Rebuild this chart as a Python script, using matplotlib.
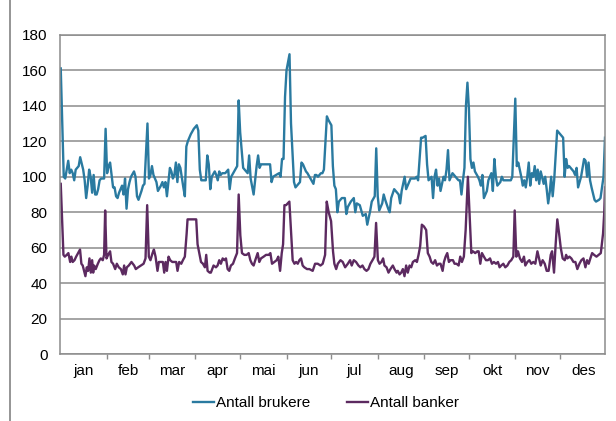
import numpy as np
import matplotlib.pyplot as plt
from matplotlib.lines import Line2D

# day of year (0 = 1 Jan) and daily counts
brukere_dag = [0, 2, 3, 4, 5, 6, 7, 8, 9, 10, 12, 13, 15, 16, 17, 18, 19, 20, 21, 22,
               23, 24, 25, 26, 27, 29, 30, 31, 32, 33, 35, 36, 37, 38, 39, 41, 42, 43, 44, 45,
               46, 47, 49, 50, 51, 52, 54, 55, 56, 58, 59, 60, 61, 62, 64, 65, 67, 68, 69, 70,
               71, 72, 73, 74, 75, 76, 77, 78, 79, 80, 82, 83, 84, 85, 87, 89, 91, 92, 93, 94,
               96, 97, 98, 99, 100, 101, 103, 104, 105, 106, 107, 108, 110, 112, 113, 114, 116, 118, 119, 120,
               122, 124, 125, 126, 127, 129, 131, 132, 133, 134, 136, 138, 140, 141, 142, 144, 146, 147, 148, 149,
               150, 151, 153, 154, 156, 157, 159, 160, 161, 162, 164, 165, 167, 169, 170, 171, 172, 174, 175, 176,
               178, 179, 181, 182, 183, 184, 185, 186, 188, 190, 191, 192, 194, 196, 197, 198, 200, 201, 202, 204,
               205, 206, 207, 208, 210, 211, 212, 213, 215, 216, 217, 219, 220, 221, 223, 224, 226, 227, 228, 229,
               230, 231, 233, 234, 235, 237, 238, 239, 241, 242, 244, 245, 246, 248, 249, 250, 251, 252, 253, 254,
               256, 257, 258, 259, 260, 261, 262, 264, 266, 267, 268, 269, 270, 271, 272, 273, 274, 275, 276, 277,
               279, 280, 281, 282, 283, 285, 286, 288, 289, 290, 291, 292, 294, 295, 296, 297, 299, 301, 302, 304,
               305, 306, 308, 309, 310, 311, 312, 313, 314, 315, 316, 317, 318, 319, 320, 321, 323, 324, 325, 326,
               327, 328, 329, 330, 332, 333, 334, 336, 337, 338, 339, 340, 341, 343, 344, 345, 346, 348, 350, 351,
               352, 353, 354, 355, 357, 358, 360, 361, 363, 364]
brukere = [161, 100, 99, 104, 109, 102, 104, 102, 98, 104, 106, 111, 104, 98, 88, 95, 104, 100, 91, 101,
           90, 90, 93, 98, 99, 99, 127, 102, 106, 108, 94, 94, 89, 88, 91, 95, 90, 99, 82, 93,
           97, 100, 103, 100, 89, 87, 92, 95, 96, 130, 99, 101, 106, 101, 97, 92, 95, 97, 94, 97,
           89, 97, 105, 103, 99, 101, 108, 97, 107, 105, 94, 89, 117, 120, 124, 127, 129, 126, 104, 98,
           98, 98, 112, 107, 93, 100, 103, 101, 98, 103, 101, 102, 102, 104, 93, 100, 103, 106, 143, 125,
           105, 103, 102, 112, 99, 90, 106, 112, 105, 107, 107, 107, 107, 97, 100, 101, 102, 100, 110, 110,
           145, 160, 169, 130, 97, 94, 96, 97, 108, 107, 103, 102, 99, 96, 101, 101, 100, 102, 102, 104,
           134, 132, 129, 106, 95, 93, 80, 86, 88, 88, 79, 83, 86, 88, 80, 85, 84, 81, 78, 79,
           73, 77, 81, 86, 89, 116, 89, 81, 85, 90, 87, 82, 80, 88, 93, 92, 90, 85, 92, 96,
           100, 93, 97, 99, 99, 99, 100, 98, 122, 122, 123, 107, 98, 100, 88, 100, 104, 95, 99, 92,
           100, 98, 104, 115, 98, 100, 102, 100, 98, 98, 90, 98, 105, 140, 153, 138, 110, 105, 108, 103,
           100, 98, 95, 101, 88, 92, 98, 102, 92, 110, 100, 95, 97, 100, 98, 98, 98, 98, 100, 144,
           106, 108, 100, 95, 98, 94, 100, 108, 95, 102, 100, 106, 98, 104, 96, 103, 96, 100, 93, 85,
           91, 100, 89, 98, 126, 125, 124, 122, 100, 110, 105, 106, 105, 103, 101, 105, 94, 100, 110, 109,
           100, 108, 98, 94, 87, 86, 87, 88, 100, 122]

banker_dag = [0, 1.8, 2.7, 4.0, 5.1, 6.3, 7.1, 8.0, 9.2, 10.3, 11.6, 12.9, 13.8, 14.7, 15.6, 16.5, 17.4, 18.3, 19.2, 20.1,
              21.0, 21.7, 22.3, 23.4, 24.8, 25.9, 26.8, 28.1, 29.0, 29.7, 30.6, 31.7, 33.0, 33.9, 35.0, 36.4, 37.5, 38.8, 40.2, 41.5,
              42.4, 43.3, 44.2, 45.5, 47.3, 49.1, 50.2, 51.8, 53.6, 55.4, 56.7, 57.8, 58.9, 60.0, 61.4, 62.3, 63.4, 64.7, 65.6, 67.0,
              68.3, 69.2, 70.1, 71.0, 72.1, 73.2, 74.6, 75.9, 77.2, 78.1, 79.2, 80.6, 81.7, 83.0, 84.2, 84.8, 87.1, 89.3, 90.6, 91.5,
              92.9, 93.8, 95.1, 96.4, 97.3, 98.2, 99.6, 100.4, 102.2, 103.8, 104.9, 106.0, 107.1, 108.3, 109.4, 110.5, 111.6, 112.7, 113.8, 115.2,
              116.5, 117.9, 119.0, 120.1, 121.2, 122.8, 124.3, 125.7, 126.8, 127.9, 129.0, 130.1, 131.7, 132.8, 133.9, 135.7, 137.3, 139.1, 140.2, 141.3,
              142.9, 144.4, 145.5, 146.7, 147.8, 148.7, 149.6, 150.7, 152.9, 154.0, 155.1, 156.3, 157.4, 158.5, 159.6, 160.7, 161.8, 162.9, 164.7, 166.3,
              168.5, 170.1, 171.9, 173.7, 175.2, 176.8, 177.9, 179.2, 180.8, 182.1, 183.0, 184.2, 185.3, 187.1, 188.6, 190.2, 192.0, 193.5, 194.6, 196.0,
              197.5, 199.1, 200.4, 201.8, 203.1, 204.5, 205.8, 207.1, 208.5, 209.8, 210.9, 212.1, 213.2, 214.5, 215.6, 216.5, 217.9, 219.2, 220.5, 222.1,
              223.2, 224.6, 225.4, 226.6, 227.7, 228.8, 229.9, 231.0, 232.1, 233.3, 234.4, 235.5, 237.1, 238.2, 239.3, 240.4, 241.5, 242.9, 244.4, 245.5,
              246.7, 247.8, 249.1, 250.4, 251.6, 252.9, 254.0, 255.4, 256.3, 257.4, 258.5, 259.6, 260.7, 262.3, 263.4, 264.7, 266.1, 267.2, 268.3, 269.6,
              270.8, 272.3, 273.4, 274.6, 275.7, 277.2, 278.6, 279.5, 280.6, 281.7, 283.0, 284.4, 285.7, 287.1, 288.4, 289.7, 291.1, 292.4, 293.5, 294.6,
              296.0, 297.3, 298.7, 300.0, 301.3, 302.7, 303.6, 304.7, 305.8, 307.1, 308.5, 309.8, 310.7, 312.1, 313.4, 314.7, 316.1, 317.4, 318.8, 319.6,
              321.0, 322.3, 323.7, 325.0, 326.3, 327.7, 328.6, 329.9, 331.0, 332.1, 333.3, 334.4, 335.7, 337.1, 338.0, 338.8, 340.2, 341.5, 342.9, 344.2,
              345.5, 346.9, 348.2, 349.6, 350.9, 352.0, 353.1, 354.2, 355.4, 356.7, 358.3, 359.8, 361.2, 362.7, 363.5, 364]
banker = [96, 56, 55, 56, 57, 52, 55, 52, 53, 55, 57, 59, 51, 50, 47, 44, 49, 47, 54, 46,
          53, 46, 50, 48, 51, 53, 54, 53, 56, 81, 54, 56, 58, 52, 51, 48, 51, 49, 48, 45,
          50, 45, 49, 50, 52, 50, 48, 49, 50, 51, 54, 84, 55, 53, 57, 59, 55, 47, 52, 52,
          52, 46, 52, 47, 55, 53, 52, 52, 52, 47, 52, 51, 53, 55, 68, 76, 76, 76, 76, 62,
          56, 52, 51, 49, 56, 47, 46, 46, 50, 49, 50, 53, 51, 54, 53, 54, 48, 47, 50, 51,
          54, 57, 90, 67, 57, 56, 56, 57, 53, 51, 50, 53, 57, 52, 54, 55, 56, 56, 57, 51,
          52, 53, 55, 47, 57, 62, 84, 84, 86, 70, 53, 51, 52, 51, 53, 54, 50, 49, 48, 48,
          47, 51, 51, 50, 51, 56, 86, 80, 75, 58, 51, 48, 51, 53, 52, 49, 51, 53, 50, 53,
          52, 50, 49, 50, 48, 47, 48, 51, 53, 55, 74, 53, 51, 52, 54, 50, 49, 46, 48, 50,
          48, 46, 47, 45, 46, 48, 44, 50, 46, 50, 49, 52, 53, 52, 56, 61, 73, 72, 70, 57,
          55, 52, 51, 53, 50, 51, 51, 47, 52, 55, 57, 52, 53, 53, 51, 51, 50, 55, 52, 55,
          70, 100, 80, 57, 58, 57, 58, 58, 51, 57, 55, 53, 53, 54, 51, 52, 51, 52, 49, 50,
          51, 49, 50, 52, 53, 55, 81, 55, 58, 54, 52, 55, 50, 52, 53, 51, 52, 51, 58, 55,
          50, 53, 51, 47, 47, 56, 58, 46, 62, 76, 68, 60, 54, 53, 56, 54, 55, 54, 52, 52,
          48, 51, 53, 54, 49, 53, 51, 54, 57, 56, 55, 56, 57, 68, 80, 94]

maaneder = ['jan', 'feb', 'mar', 'apr', 'mai', 'jun', 'jul', 'aug', 'sep', 'okt', 'nov', 'des']
maaned_start = [0, 31, 59, 90, 120, 151, 181, 212, 243, 273, 304, 334, 365]

plt.rcParams['font.family'] = ['Liberation Sans', 'DejaVu Sans']
plt.rcParams['font.size'] = 11

blaa = '#2a7aa0'
lilla = '#5c2a60'
graa = '#8c8c8c'

fig = plt.figure(figsize=(6.16, 4.21), dpi=100)
ax = fig.add_axes([60 / 616, 1 - 354.3 / 421, 545 / 616, 319.6 / 421])

ax.plot(brukere_dag, brukere, color=blaa, lw=1.7, label='Antall brukere', solid_joinstyle='round')
ax.plot(banker_dag, banker, color=lilla, lw=1.7, label='Antall banker', solid_joinstyle='round')

ax.set_ylim(0, 180)
ax.set_yticks(np.arange(0, 181, 20))
ax.set_xlim(-0.5, 364)
ax.grid(axis='y', color=graa, lw=1.1)
ax.set_axisbelow(True)

# month boundaries as tick marks, month names centred between them
ax.set_xticks(maaned_start[1:-1])
ax.set_xticklabels([])
mid = [(maaned_start[i] + maaned_start[i + 1]) / 2 for i in range(12)]
ax.set_xticks(mid, minor=True)
ax.set_xticklabels(maaneder, minor=True)
ax.tick_params(axis='x', which='major', length=3.5, color=graa, width=1)
ax.tick_params(axis='x', which='minor', length=0, pad=7)
ax.tick_params(axis='y', length=0, pad=9)

for s in ax.spines.values():
    s.set_color(graa)
    s.set_linewidth(1.1)

fig.legend(handles=[Line2D([], [], color=blaa, lw=1.7), Line2D([], [], color=lilla, lw=1.7)],
           labels=['Antall brukere', 'Antall banker'], loc='center', bbox_to_anchor=(326 / 616, 1 - 403 / 421),
           ncol=2, frameon=False, handlelength=1.35, handletextpad=0.15, columnspacing=2.4, fontsize=11)

# left frame line of the figure
fig.add_artist(Line2D([10 / 616, 10 / 616], [0, 1], color=graa, lw=1.3))

fig.savefig('out.png', dpi=100)
